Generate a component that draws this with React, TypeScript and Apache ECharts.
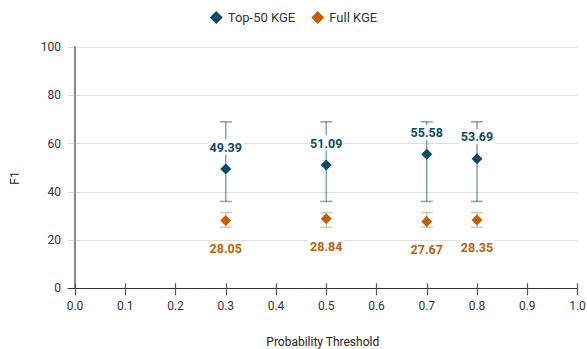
import React, { useEffect, useRef } from "react";
import * as echarts from "echarts";

// Probability thresholds evaluated
const thresholds = [0.3, 0.5, 0.7, 0.8];

// Mean F1 per threshold
const top50F1 = [49.39, 51.09, 55.58, 53.69];
const fullF1 = [28.05, 28.84, 27.67, 28.35];

// Error bar bounds (low, high)
const top50Low = [36, 36, 36, 36];
const top50High = [69, 69, 69, 69];
const fullLow = [25.3, 25.3, 25.3, 25.3];
const fullHigh = [31.4, 31.4, 31.4, 31.4];

const xTickValues = [0, 0.1, 0.2, 0.3, 0.4, 0.5, 0.6, 0.7, 0.8, 0.9, 1.0];

const BLUE = "#0b4a69";
const ORANGE = "#c2610c";
const FONT = "Roboto, 'Noto Sans', sans-serif";

function errorSeries(low: number[], high: number[], color: string) {
  return {
    type: "custom",
    z: 1,
    silent: true,
    data: thresholds.map((x, i) => [x, low[i], high[i]]),
    renderItem: (params: any, api: any) => {
      const x = api.value(0);
      const lo = api.coord([x, api.value(1)]);
      const hi = api.coord([x, api.value(2)]);
      const w = 6;
      const style = { stroke: color, lineWidth: 1.5 };
      return {
        type: "group",
        children: [
          { type: "line", shape: { x1: hi[0], y1: hi[1], x2: lo[0], y2: lo[1] }, style },
          { type: "line", shape: { x1: hi[0] - w, y1: hi[1], x2: hi[0] + w, y2: hi[1] }, style },
          { type: "line", shape: { x1: lo[0] - w, y1: lo[1], x2: lo[0] + w, y2: lo[1] }, style },
        ],
      };
    },
  };
}

export default function App() {
  const ref = useRef<HTMLDivElement>(null);

  useEffect(() => {
    if (!ref.current) return;
    const chart = echarts.init(ref.current, null, { renderer: "svg" });
    const labelFmt = (p: any) => Number(p.value[1]).toFixed(2);

    chart.setOption({
      animation: false,
      textStyle: { fontFamily: FONT },
      legend: {
        top: 6,
        left: "center",
        itemWidth: 13,
        itemHeight: 13,
        itemGap: 16,
        icon: "diamond",
        textStyle: { fontSize: 13, color: "#333", fontFamily: FONT },
        data: ["Top-50 KGE", "Full KGE"],
      },
      grid: {
        left: 68,
        right: 9.5,
        top: 47,
        bottom: 60.7,
        containLabel: false,
        outerBoundsMode: "none",
      },
      xAxis: [
        {
          type: "value",
          min: -0.014,
          max: 1,
          position: "bottom",
          name: "Probability Threshold",
          nameLocation: "middle",
          nameGap: 48,
          nameTextStyle: { fontSize: 12, color: "#222", fontFamily: FONT },
          axisLine: { show: true, lineStyle: { color: "#333", width: 1 } },
          axisTick: { show: true, length: 7, customValues: xTickValues, lineStyle: { color: "#555", width: 1.2 } },
          axisLabel: {
            customValues: xTickValues,
            formatter: (v: number) => v.toFixed(1),
            fontSize: 12,
            color: "#333",
            margin: 12,
            fontFamily: FONT,
          },
          splitLine: { show: false },
        },
        {
          type: "value",
          min: -0.014,
          max: 1,
          position: "bottom",
          axisLine: { show: false },
          axisTick: { show: true, inside: true, length: 5, customValues: xTickValues, lineStyle: { color: "#555", width: 1.2 } },
          axisLabel: { show: false },
          splitLine: { show: false },
        },
      ],
      yAxis: {
        type: "value",
        min: 0,
        max: 100,
        interval: 20,
        axisLine: { show: true, lineStyle: { color: "#8a8a8a", width: 2 } },
        axisTick: { show: false },
        axisLabel: { fontSize: 12, color: "#333", margin: 7, fontFamily: FONT },
        splitLine: { show: true, lineStyle: { color: "#dedede", width: 1.2 } },
      },
      graphic: [
        {
          type: "text",
          x: 15,
          y: 178,
          rotation: Math.PI / 2,
          style: {
            text: "F1",
            fontSize: 12,
            fill: "#222",
            fontFamily: FONT,
            align: "center",
            verticalAlign: "middle",
          },
        },
      ],
      series: [
        errorSeries(top50Low, top50High, "rgba(11,74,105,0.5)"),
        errorSeries(fullLow, fullHigh, "rgba(194,97,12,0.35)"),
        {
          name: "Top-50 KGE",
          type: "scatter",
          z: 3,
          symbol: "diamond",
          symbolSize: 11,
          itemStyle: { color: BLUE, opacity: 1 },
          data: thresholds.map((x, i) => [x, top50F1[i]]),
          label: {
            show: true,
            position: "top",
            distance: 9,
            formatter: labelFmt,
            color: BLUE,
            fontWeight: "bold",
            fontSize: 12.5,
            fontFamily: FONT,
            backgroundColor: "#fff",
            padding: [1, 2],
          },
        },
        {
          name: "Full KGE",
          type: "scatter",
          z: 3,
          symbol: "diamond",
          symbolSize: 11,
          itemStyle: { color: ORANGE, opacity: 1 },
          data: thresholds.map((x, i) => [x, fullF1[i]]),
          label: {
            show: true,
            position: "bottom",
            distance: 15,
            formatter: labelFmt,
            color: ORANGE,
            fontWeight: "bold",
            fontSize: 12.5,
            fontFamily: FONT,
            backgroundColor: "#fff",
            padding: [1, 2],
          },
        },
      ],
    });

    return () => chart.dispose();
  }, []);

  return <div ref={ref} style={{ width: 587, height: 349, position: "absolute", left: 0, top: 0 }} />;
}
